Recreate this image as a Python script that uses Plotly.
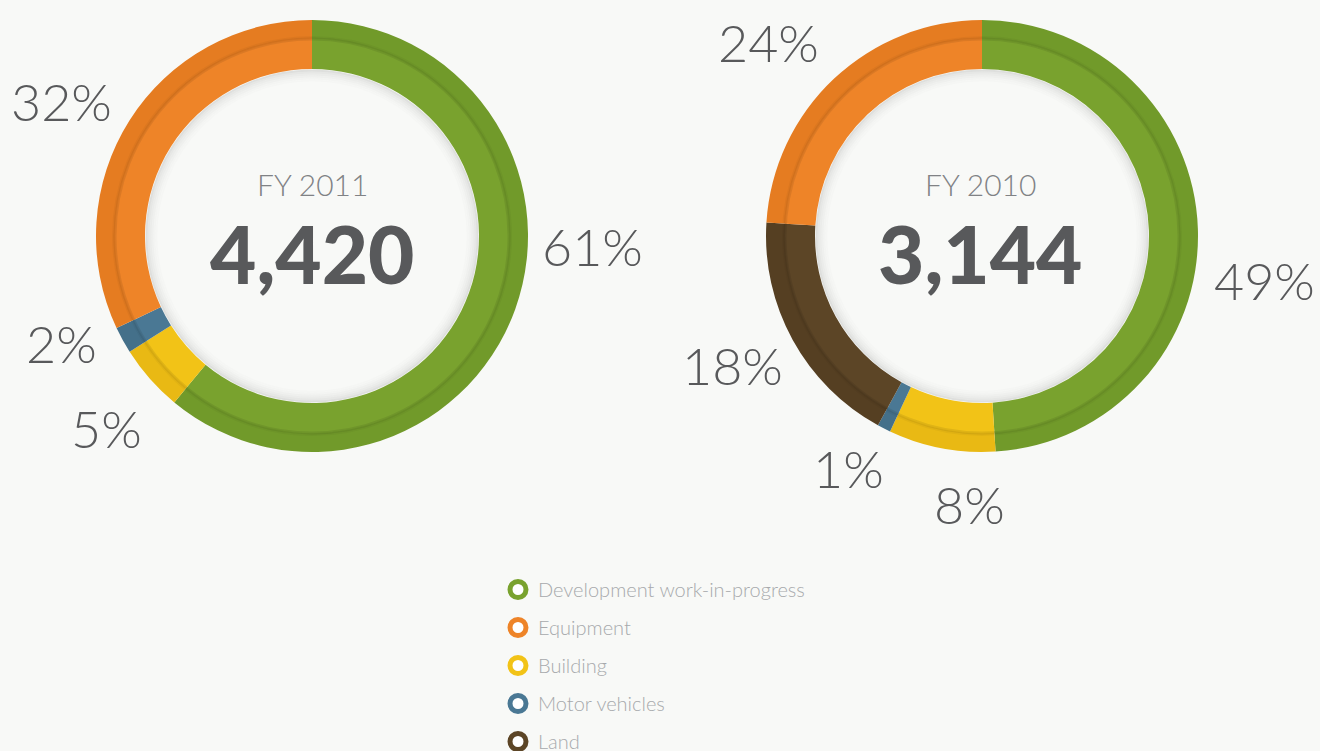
"""
Fixed assets by category — FY 2011 vs FY 2010 donut charts
"""

import plotly.graph_objects as go

# ── data ───────────────────────────────────────────────
categories = ["Development work-in-progress", "Equipment", "Building", "Motor vehicles", "Land"]
colors = ["#79a22e", "#ee8428", "#f2c317", "#4a7894", "#5c4526"]
colors_dark = ["#719a2a", "#e57c21", "#e9b914", "#44708a", "#553f22"]

# clockwise order from 12 o'clock, as drawn
fy2011_labels = ["Development work-in-progress", "Building", "Motor vehicles", "Equipment"]
fy2011_values = [61, 5, 2, 32]
fy2011_total = "4,420"

fy2010_labels = ["Development work-in-progress", "Building", "Motor vehicles", "Land", "Equipment"]
fy2010_values = [49, 8, 1, 18, 24]
fy2010_total = "3,144"

# ── layout helpers (pixel -> paper) ──────────────────────
W, H = 1320, 751
BG = "#f8f9f7"
LIGHT_FONT = "'Lato Light', Lato, 'Open Sans', sans-serif"
HEAVY_FONT = "'Lato Black', Lato, 'Open Sans', sans-serif"
TEXT_GREY = "#58595b"

R_OUT, R_MID, R_HOLE = 216, 196, 167


def domain(cx, cy, r):
    return dict(x=[(cx - r) / W, (cx + r) / W], y=[(H - cy - r) / H, (H - cy + r) / H])


def circle(cx, cy, r, color, width):
    return dict(type="circle", xref="paper", yref="paper",
                x0=(cx - r) / W, x1=(cx + r) / W,
                y0=(H - cy - r) / H, y1=(H - cy + r) / H,
                line=dict(color=color, width=width), layer="above")


def donut(fig, labels, values, cx, cy):
    cmap = dict(zip(categories, colors))
    dmap = dict(zip(categories, colors_dark))
    # outer shaded band
    fig.add_trace(go.Pie(
        labels=labels, values=values, sort=False, direction="clockwise", rotation=0,
        hole=R_MID / R_OUT, domain=domain(cx, cy, R_OUT),
        marker=dict(colors=[dmap[l] for l in labels], line=dict(width=0)),
        textinfo="none", hoverinfo="label+percent", showlegend=False,
    ))
    # inner band
    fig.add_trace(go.Pie(
        labels=labels, values=values, sort=False, direction="clockwise", rotation=0,
        hole=R_HOLE / (R_MID + 1), domain=domain(cx, cy, R_MID + 1),
        marker=dict(colors=[cmap[l] for l in labels], line=dict(width=0)),
        textinfo="none", hoverinfo="label+percent", showlegend=False,
    ))


fig = go.Figure()

centres = [(312, 236), (982, 236)]
donut(fig, fy2011_labels, fy2011_values, *centres[0])
donut(fig, fy2010_labels, fy2010_values, *centres[1])

# legend entries (ring markers)
for i, (name, c) in enumerate(zip(categories, colors)):
    fig.add_trace(go.Scatter(
        x=[None], y=[None], mode="markers", name=name, legendgroup=str(i),
        marker=dict(symbol="circle", size=16, color="#ffffff", line=dict(color=c, width=5)),
    ))

# shading: band edge and soft shadow inside the hole
shapes = []
for cx, cy in centres:
    shapes.append(circle(cx, cy, R_MID + 1, "rgba(0,0,0,0.08)", 3))
    shapes.append(circle(cx, cy, R_MID + 3, "rgba(0,0,0,0.035)", 2))
    for k, a in enumerate([0.10, 0.07, 0.05, 0.035, 0.02, 0.01]):
        shapes.append(circle(cx, cy, R_HOLE - 1.5 - 2 * k, f"rgba(0,0,0,{a})", 2))

# ── annotations ─────────────────────────────────────────
ann = []


def text(x, y, s, size, color=TEXT_GREY, family=LIGHT_FONT, weight=300):
    ann.append(dict(x=x / W, y=1 - y / H, xref="paper", yref="paper", text=s,
                    showarrow=False, xanchor="center", yanchor="middle",
                    font=dict(family=family, size=size, color=color, weight=weight)))


# percentage labels around the rings
pos_2011 = [(592, 246), (106, 428), (62, 343), (62, 101)]
pos_2010 = [(1264, 280), (969, 504), (848, 468), (732, 365), (768, 42)]
for v, (x, y) in zip(fy2011_values, pos_2011):
    text(x, y, f"{v}%", 52)
for v, (x, y) in zip(fy2010_values, pos_2010):
    text(x, y, f"{v}%", 52)

# centre texts
text(312, 184, "FY 2011", 30, color="#808285")
text(312, 253, fy2011_total, 80, family=HEAVY_FONT, weight=900)
text(980, 184, "FY 2010", 30, color="#808285")
text(980, 253, fy2010_total, 80, family=HEAVY_FONT, weight=900)

fig.update_layout(
    width=W, height=H,
    margin=dict(l=0, r=0, t=0, b=0, autoexpand=False),
    paper_bgcolor=BG, plot_bgcolor=BG,
    xaxis=dict(visible=False), yaxis=dict(visible=False),
    shapes=shapes, annotations=ann,
    legend=dict(
        x=498 / W, y=1 - 570 / H, xanchor="left", yanchor="top",
        font=dict(family=LIGHT_FONT, size=20, color="#a7a9ac", weight=300),
        bgcolor="rgba(0,0,0,0)", traceorder="grouped", tracegroupgap=9,
        itemclick=False,
    ),
    showlegend=True,
)

fig.write_html(
    "out.html",
    config={"displayModeBar": False},
    post_script="document.body.style.margin='0';document.body.style.background='%s';" % BG,
)
